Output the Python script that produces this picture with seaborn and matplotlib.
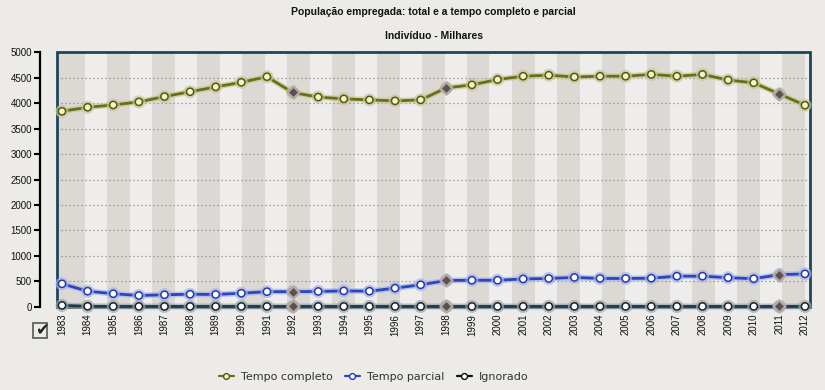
import matplotlib
matplotlib.use("Agg")
import matplotlib.pyplot as plt
import matplotlib.patheffects as pe
from matplotlib.lines import Line2D
from matplotlib.patches import Rectangle
import pandas as pd
import seaborn as sns

# ---------------- data ----------------
years = list(range(1983, 2013))
tempo_completo = [3840, 3920, 3965, 4025, 4130, 4225, 4320, 4410, 4520, 4210,
                  4120, 4085, 4065, 4045, 4065, 4300, 4360, 4465, 4530, 4550,
                  4515, 4530, 4530, 4565, 4530, 4565, 4455, 4400, 4180, 3960]
tempo_parcial = [450, 305, 255, 220, 235, 245, 240, 265, 295, 295,
                 300, 310, 305, 365, 430, 515, 520, 520, 545, 555,
                 575, 555, 555, 560, 600, 600, 570, 550, 630, 645]
ignorado = [26, 8, 5, 5, 5, 5, 5, 5, 5, 5,
            5, 5, 5, 5, 5, 5, 5, 5, 5, 5,
            5, 5, 5, 5, 5, 5, 5, 5, 5, 5]
highlight_years = [1992, 1998, 2011]
series_names = ["Tempo completo", "Tempo parcial", "Ignorado"]
yticks = list(range(0, 5001, 500))
title = "População empregada: total e a tempo completo e parcial"
subtitle = "Indivíduo - Milhares"

df = pd.DataFrame({"ano": years,
                   "Tempo completo": tempo_completo,
                   "Tempo parcial": tempo_parcial,
                   "Ignorado": ignorado})

# ---------------- styling ----------------
sns.set_theme(style="white")
plt.rcParams["font.family"] = ["Liberation Sans", "DejaVu Sans"]

BG = "#edebe8"
LIGHT = "#efedeb"
DARK = "#dcd8d4"
FRAME = "#1d4657"

styles = {
    "Tempo completo": dict(color="#6a6e14", glow="#c6c79a", mfc="#f3f3c6", mec="#55590c"),
    "Tempo parcial": dict(color="#2b45c0", glow="#aab5e6", mfc="#ffffff", mec="#2438b0"),
    "Ignorado": dict(color="#1e3a4a", glow="#9aa7ae", mfc="#ffffff", mec="#1b2328"),
}

W, H = 825, 390
fig = plt.figure(figsize=(W / 100, H / 100), dpi=100, facecolor=BG)
ax_l, ax_r, ax_t, ax_b = 57, 810, 52.3, 306.7
ax = fig.add_axes([ax_l / W, 1 - ax_b / H, (ax_r - ax_l) / W, (ax_b - ax_t) / H])
ax.set_facecolor(LIGHT)

# spines first (set_position resets ticks)
for s in ["top", "right", "bottom"]:
    ax.spines[s].set_visible(False)
ax.spines["left"].set_position(("outward", 12.5))
ax.spines["left"].set_color("black")
ax.spines["left"].set_linewidth(1.6)

# alternating vertical background bands (axes fraction)
pw = ax_r - ax_l
ax.add_patch(Rectangle((0, 0), (84.5 - ax_l) / pw, 1, transform=ax.transAxes,
                       color=DARK, zorder=0.2, lw=0))
for k in range(16):
    x0 = (107 - ax_l + 45 * k) / pw
    ax.add_patch(Rectangle((x0, 0), 22.5 / pw, 1, transform=ax.transAxes,
                           color=DARK, zorder=0.2, lw=0))

ax.set_axisbelow(True)
ax.yaxis.grid(True, linestyle=(0, (1, 2.2)), color="#8c8c8c", lw=0.9)
ax.xaxis.grid(False)

# lines
for name in series_names:
    st = styles[name]
    sns.lineplot(data=df, x="ano", y=name, ax=ax, color=st["color"], lw=2.0,
                 marker="o", markersize=5.2, markerfacecolor=st["mfc"],
                 markeredgecolor=st["mec"], markeredgewidth=1.1,
                 clip_on=False, zorder=4,
                 path_effects=[pe.Stroke(linewidth=4.2, foreground=st["glow"], alpha=0.7),
                               pe.Normal()])
    hl = df[df["ano"].isin(highlight_years)]
    sns.scatterplot(data=hl, x="ano", y=name, ax=ax, marker="D", s=38,
                    color="#5a5150", edgecolor="#b3aaa7", linewidth=1.7,
                    zorder=6, clip_on=False, legend=False)

ax.set_xlim(1983 - 5 / 25.62, 1983 + 748 / 25.62)
ax.set_ylim(0, 5000)
ax.spines["left"].set_bounds(0, 5000)
ax.set_xticks(years)
ax.set_xticklabels([str(y) for y in years], rotation=90)
ax.set_yticks(yticks)
ax.set_yticklabels([str(v) for v in yticks])
ax.set_xlabel("")
ax.set_ylabel("")
ax.tick_params(axis="x", length=0, pad=5, labelsize=7, labelcolor="#111")
ax.tick_params(axis="y", length=4, width=1.5, color="black", pad=1.5, left=True,
               labelsize=7, labelcolor="#111")

ax.add_patch(Rectangle((0, 0), 1, 1, transform=ax.transAxes, fill=False,
                       ec=FRAME, lw=2.0, zorder=3, clip_on=False))

# titles
cx = (ax_l + ax_r) / 2 / W
fig.text(cx, 1 - 12 / H, title, ha="center", va="center", fontsize=7.5,
         fontweight="bold", color="#111")
fig.text(cx, 1 - 36 / H, subtitle, ha="center", va="center", fontsize=7.5,
         fontweight="bold", color="#111")

# checkbox decoration
fig.patches.append(Rectangle((33 / W, 1 - 338 / H), 14 / W, 15 / H,
                             transform=fig.transFigure, fill=False,
                             ec="#555", lw=1.2))
fig.text(42 / W, 1 - 330 / H, "✔", ha="center", va="center", fontsize=12,
         color="#222", family="DejaVu Sans")

# legend
handles = [Line2D([], [], color=styles[n]["color"], lw=1.6, marker="o",
                  markersize=4.2, markerfacecolor=styles[n]["mfc"],
                  markeredgecolor=styles[n]["mec"], markeredgewidth=1.0)
           for n in series_names]
handles[2].set_color("#111")
handles[2].set_markeredgecolor("#111")
fig.legend(handles, series_names, loc="center", bbox_to_anchor=(374 / W, 1 - 377 / H),
           ncol=3, frameon=False, handlelength=1.3, handletextpad=0.7,
           columnspacing=1.1, prop={"family": "DejaVu Sans", "size": 8},
           labelcolor="#333")

fig.savefig("out.png", dpi=100, facecolor=BG)
